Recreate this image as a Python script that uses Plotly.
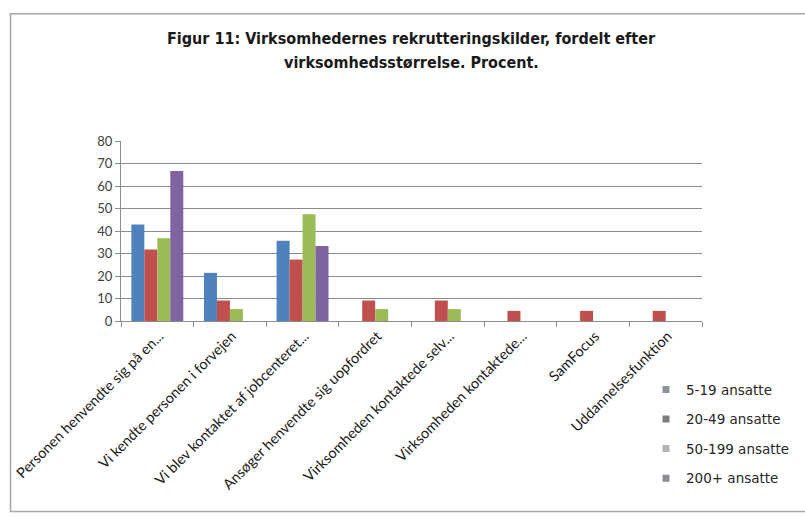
import plotly.graph_objects as go

# Recruitment sources (categories on the x axis, as labelled in the chart)
categories = [
    "Personen henvendte sig på en...",
    "Vi kendte personen i forvejen",
    "Vi blev kontaktet af jobcenteret...",
    "Ansøger henvendte sig uopfordret",
    "Virksomheden kontaktede selv...",
    "Virksomheden kontaktede...",
    "SamFocus",
    "Uddannelsesfunktion",
]

series_names = ["5-19 ansatte", "20-49 ansatte", "50-199 ansatte", "200+ ansatte"]

# Percent per company size
v_5_19 = [42.9, 21.4, 35.7, 0, 0, 0, 0, 0]
v_20_49 = [31.8, 9.1, 27.3, 9.1, 9.1, 4.5, 4.5, 4.5]
v_50_199 = [36.8, 5.3, 47.4, 5.3, 5.3, 0, 0, 0]
v_200 = [66.7, 0, 33.3, 0, 0, 0, 0, 0]

y_ticks = [0, 10, 20, 30, 40, 50, 60, 70, 80]

bar_colors = ["#4F81BD", "#C0504D", "#9BBB59", "#8064A2"]
legend_colors = ["#8e949b", "#7d7d7d", "#b4b4b4", "#8f8c94"]

W, H = 805, 518
L, R, T, B = 121, 702, 140.5, 321.5
pw, ph = R - L, B - T


def px_x(x):
    return (x - L) / pw


def px_y(y):
    return (B - y) / ph


fig = go.Figure()
for name, vals, col in zip(series_names, [v_5_19, v_20_49, v_50_199, v_200], bar_colors):
    fig.add_trace(go.Bar(
        x=categories, y=vals, name=name, showlegend=False,
        marker=dict(color=col, line=dict(width=0)),
    ))

# Legend entries with grey swatches (marker-only, so they take no bar slot)
for i, (name, col) in enumerate(zip(series_names, legend_colors)):
    fig.add_trace(go.Scatter(
        x=[None], y=[None], mode="markers", name=name, legendgroup=f"g{i}",
        marker=dict(color=col, symbol="square", size=7), showlegend=True,
        hoverinfo="skip",
    ))

title_font = dict(family="DejaVu Sans Condensed, Liberation Sans Narrow, sans-serif",
                  size=16, color="#1a1a1a")
fig.add_annotation(text="<b>Figur 11: Virksomhedernes rekrutteringskilder, fordelt efter</b>",
                   xref="paper", yref="paper", x=px_x(411), y=px_y(37),
                   showarrow=False, font=title_font, xanchor="center", yanchor="middle")
fig.add_annotation(text="<b>virksomhedsstørrelse. Procent.</b>",
                   xref="paper", yref="paper", x=px_x(411), y=px_y(62),
                   showarrow=False, font=title_font, xanchor="center", yanchor="middle")

# Chart frame
fig.add_shape(type="rect", xref="paper", yref="paper",
              x0=px_x(10.5), x1=px_x(830), y0=px_y(513), y1=px_y(12.5),
              line=dict(color="#a6a6a6", width=1.5), layer="below")

fig.update_layout(
    width=W, height=H,
    margin=dict(l=L, r=W - R, t=T, b=H - B, autoexpand=False),
    paper_bgcolor="white", plot_bgcolor="white",
    barmode="group", bargap=0.285, bargroupgap=0,
    showlegend=True,
    legend=dict(
        x=px_x(646), y=px_y(375), xanchor="left", yanchor="top",
        font=dict(family="DejaVu Sans", size=13.5, color="#262626"),
        traceorder="grouped", tracegroupgap=9, itemwidth=30,
        bgcolor="rgba(0,0,0,0)",
    ),
    font=dict(family="Lato", color="#404040"),
)

fig.update_yaxes(
    range=[0, 80], tickvals=y_ticks, showgrid=True, gridcolor="#8c8c8c", gridwidth=1,
    showline=True, linecolor="#8c8c8c", ticks="outside", ticklen=5, tickcolor="#8c8c8c",
    tickfont=dict(family="Lato", size=13, color="#404040"), zeroline=False,
)
fig.update_xaxes(
    showline=True, linecolor="#8c8c8c", ticks="outside", ticklen=5, tickcolor="#8c8c8c",
    tickson="boundaries", tickangle=-45, ticklabelshift=2,
    tickfont=dict(family="Lato", size=14.5, color="#1a1a1a"),
)

fig.write_html("out.html")
